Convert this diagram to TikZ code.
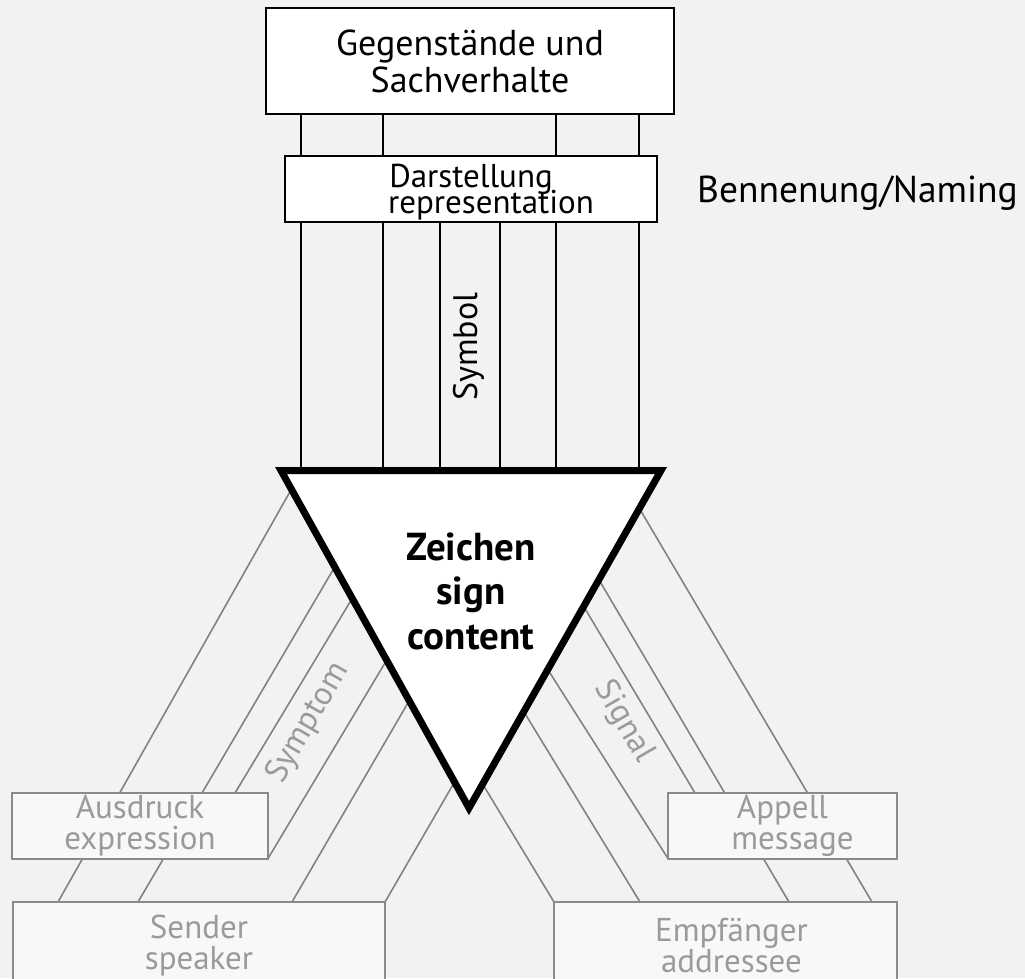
\documentclass[tikz,border=0pt]{standalone}
\usepackage{fontspec}
\setmainfont{PT Sans}
\usetikzlibrary{calc}

\definecolor{paper}{HTML}{F2F2F0}
\definecolor{rulegrey}{HTML}{828282}
\definecolor{boxline}{HTML}{8A8A8A}
\definecolor{boxfill}{HTML}{F8F8F7}
\definecolor{softtext}{HTML}{9A9A9A}

\pgfdeclarelayer{backdrop}
\pgfdeclarelayer{wires}
\pgfsetlayers{backdrop,wires,main}

% exact line spacing, even when lines come close
\newcommand{\tightlines}{\lineskiplimit=-100pt\lineskip=0pt}

\tikzset{
  blackbox/.style={draw=black, line width=2pt, fill=white, inner sep=0pt,
    outer sep=0pt, align=center, text=black},
  greybox/.style={draw=boxline, line width=2pt, fill=boxfill, inner sep=0pt,
    outer sep=0pt, align=center, text=softtext,
    font=\fontsize{33}{31}\selectfont\tightlines},
  blackwire/.style={line width=2pt, draw=black},
  greywire/.style={line width=1.6pt, draw=rulegrey},
  signedge/.style={line width=7pt, line join=miter, draw=black, fill=white},
  greylabel/.style={text=softtext, inner sep=0pt, font=\fontsize{33}{34}\selectfont},
}

\begin{document}
\begin{tikzpicture}[x=1pt, y=-1pt]
  \useasboundingbox (0,0) rectangle (1025,978);
  \clip (0,0) rectangle (1025,978);
  \begin{pgfonlayer}{backdrop}
    \fill[paper] (0,0) rectangle (1025,978);
  \end{pgfonlayer}

  % upper boxes
  \node[blackbox, minimum width=408pt, minimum height=106pt,
        font=\fontsize{36}{37}\selectfont\tightlines] (objects) at (470,61)
        {Gegenstände und\\Sachverhalte};
  \node[blackbox, minimum width=372pt, minimum height=66pt,
        font=\fontsize{33}{26.5}\selectfont\tightlines] (repr) at (471,188.5)
        {\rule{0pt}{30.5pt}Darstellung\\\hspace*{40pt}representation};
  \node[anchor=base west, inner sep=0pt, font=\fontsize{37.5}{40}\selectfont]
        (naming) at (697,202) {Bennenung/Naming};

  % the sign triangle
  \coordinate (tl) at (281,470.5);
  \coordinate (tr) at (661,470.5);
  \coordinate (tb) at (469,808);
  \draw[signedge] (tl) -- (tr) -- (tb) -- cycle;
  \node[align=center, font=\bfseries\fontsize{39}{44.5}\selectfont\tightlines]
        (sign) at (471,591) {Zeichen\\sign\\content};

  \node[rotate=90, inner sep=0pt, font=\fontsize{34}{36}\selectfont]
        (symbol) at (468.5,346.5) {Symbol};

  % lower boxes
  \node[greybox, minimum width=256pt, minimum height=65.5pt] (expr)
        at (140,825.75) {Ausdruck\\expression};
  \node[greybox, minimum width=229pt, minimum height=65.5pt] (appeal)
        at (782.5,825.75) {Appell\\\hspace*{20pt}message};
  \node[greybox, minimum width=372pt, minimum height=87pt] (sender)
        at (199,945.5) {Sender\\speaker};
  \node[greybox, minimum width=343pt, minimum height=87pt] (receiver)
        at (725.5,945.5) {\hspace*{12pt}Empfänger\\\hspace*{12pt}addressee};

  \node[greylabel, rotate=60] (symptom) at (308,723) {Symptom};
  \node[greylabel, rotate=-60] (signal) at (624,722) {Signal};

  \begin{pgfonlayer}{wires}
    % representation: vertical rules
    \foreach \x in {301,383,556,639}
      \draw[blackwire] (\x,0 |- objects.south) -- (\x,0 |- tl);
    \foreach \x in {440,500}
      \draw[blackwire] (\x,0 |- repr.south) -- (\x,0 |- tl);

    % expression: rules to the speaker side
    \draw[greywire] ($(tl)!0.0554!(tb)$) -- (58,0 |- sender.north);
    \draw[greywire] ($(tl)!0.2858!(tb)$) -- (138,0 |- sender.north);
    \draw[greywire] ($(tl)!0.3788!(tb)$) -- (235,0 |- expr.north);
    \draw[greywire] ($(tl)!0.5620!(tb)$) -- (expr.south east);
    \draw[greywire] ($(tl)!0.6820!(tb)$) -- (292,0 |- sender.north);
    \draw[greywire] ($(tl)!0.9230!(tb)$) -- (sender.north east);

    % appeal: rules to the addressee side
    \draw[greywire] ($(tr)!0.1126!(tb)$) -- (872,0 |- receiver.north);
    \draw[greywire] ($(tr)!0.3235!(tb)$) -- (789,0 |- receiver.north);
    \draw[greywire] ($(tr)!0.4027!(tb)$) -- (695,0 |- appeal.north);
    \draw[greywire] ($(tr)!0.5897!(tb)$) -- (appeal.south west);
    \draw[greywire] ($(tr)!0.7145!(tb)$) -- (640,0 |- receiver.north);
    \draw[greywire] ($(tr)!0.9290!(tb)$) -- (receiver.north west);
  \end{pgfonlayer}
\end{tikzpicture}
\end{document}
